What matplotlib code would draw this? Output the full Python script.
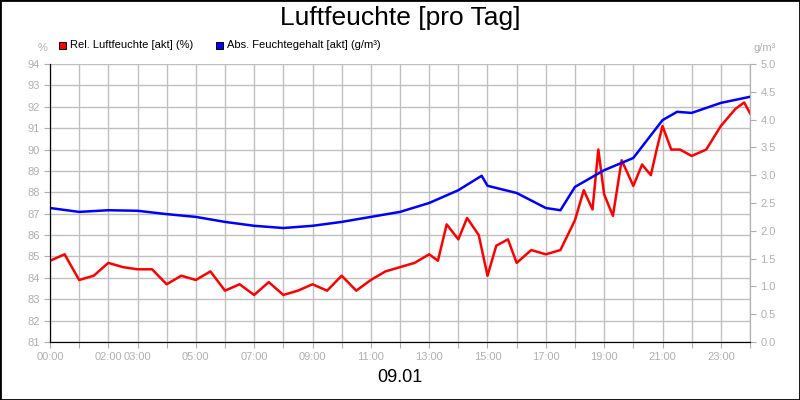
import numpy as np
import matplotlib.pyplot as plt
from matplotlib.patches import Rectangle

plt.rcParams['font.family'] = ['Liberation Sans', 'DejaVu Sans']

# Stunden seit 00:00
abs_h = [0, 1, 2, 3, 4, 5, 6, 7, 8, 9, 10, 11, 12, 13, 14, 14.8, 15, 16, 17, 17.5,
         18, 19, 20, 21, 21.5, 22, 23, 24]
abs_v = [2.41, 2.34, 2.37, 2.36, 2.30, 2.25, 2.16, 2.09, 2.05, 2.09, 2.16, 2.25, 2.34, 2.50,
         2.73, 2.99, 2.81, 2.68, 2.41, 2.37, 2.79, 3.09, 3.31, 3.99, 4.14, 4.12, 4.30, 4.41]

rel_h = [0, 0.5, 1, 1.5, 2, 2.5, 3, 3.5, 4, 4.5, 5, 5.5, 6, 6.5, 7, 7.5, 8, 8.5, 9, 9.5,
         10, 10.5, 11, 11.5, 12, 12.5, 13, 13.3, 13.6, 14, 14.3, 14.7, 15, 15.3, 15.7, 16,
         16.5, 17, 17.5, 18, 18.3, 18.6, 18.8, 19, 19.3, 19.6, 20, 20.3, 20.6, 20.8, 21,
         21.3, 21.6, 22, 22.5, 23, 23.5, 23.8, 24]
rel_v = [84.8, 85.1, 83.9, 84.1, 84.7, 84.5, 84.4, 84.4, 83.7, 84.1, 83.9, 84.3, 83.4, 83.7,
         83.2, 83.8, 83.2, 83.4, 83.7, 83.4, 84.1, 83.4, 83.9, 84.3, 84.5, 84.7, 85.1, 84.8,
         86.5, 85.8, 86.8, 86.0, 84.1, 85.5, 85.8, 84.7, 85.3, 85.1, 85.3, 86.7, 88.1, 87.2,
         90.0, 87.9, 86.9, 89.5, 88.3, 89.3, 88.8, 90.0, 91.1, 90.0, 90.0, 89.7, 90.0, 91.1,
         91.9, 92.2, 91.7]

tick_h = [0, 2, 3, 5, 7, 9, 11, 13, 15, 17, 19, 21, 23]

grey = '#b0b0b0'
fig = plt.figure(figsize=(8, 4), dpi=100)
fig.patches.append(Rectangle((0, 0), 1, 1, transform=fig.transFigure, fill=False,
                             edgecolor='black', linewidth=2))
ax = fig.add_axes([50 / 800, 58 / 400, 700 / 800, 278 / 400])
ax.plot(rel_h, rel_v, color='#ff0000', linewidth=1.8)
ax.set_xlim(0, 24)
ax.set_ylim(81, 94)
ax.set_yticks(range(81, 95))
ax.set_xticks(range(0, 25))
ax.set_xticklabels([("%02d:00" % h) if h in tick_h else "" for h in range(25)])
ax.grid(True, color='#c0c0c0', linewidth=1)
ax.tick_params(colors=grey, labelsize=8, labelcolor=grey, length=4)
for s in ['left', 'bottom']:
    ax.spines[s].set_color('black')
ax.spines['top'].set_visible(False)
ax.spines['right'].set_color(grey)

ax2 = ax.twinx()
ax2.plot(abs_h, abs_v, color='#0000ff', linewidth=1.8)
ax2.set_ylim(0, 5)
ax2.set_yticks(np.arange(0, 5.01, 0.5))
ax2.set_yticklabels(["%.1f" % v for v in np.arange(0, 5.01, 0.5)])
ax2.tick_params(colors=grey, labelsize=8, labelcolor=grey, length=4)
ax2.spines['top'].set_visible(False)
ax2.spines['right'].set_color(grey)
ax2.spines['left'].set_color('black')
ax2.spines['bottom'].set_color('black')

fig.text(0.5, 0.955, "Luftfeuchte [pro Tag]", ha='center', va='center', fontsize=19)
fig.text(0.5, 0.055, "09.01", ha='center', va='center', fontsize=13)
fig.text(43 / 800, 1 - 48 / 400, "%", ha='center', va='center', fontsize=8, color=grey)
fig.text(765 / 800, 1 - 48 / 400, "g/m³", ha='center', va='center', fontsize=8, color=grey)

fig.patches.append(Rectangle((59 / 800, 1 - 49 / 400), 7 / 800, 7 / 400, transform=fig.transFigure,
                             facecolor='#ff0000', edgecolor='black', linewidth=0.7))
fig.text(70 / 800, 1 - 45 / 400, "Rel. Luftfeuchte [akt] (%)", va='center', fontsize=8)
fig.patches.append(Rectangle((216 / 800, 1 - 49 / 400), 7 / 800, 7 / 400, transform=fig.transFigure,
                             facecolor='#0000ff', edgecolor='black', linewidth=0.7))
fig.text(227 / 800, 1 - 45 / 400, "Abs. Feuchtegehalt [akt] (g/m³)", va='center', fontsize=8)

fig.savefig("out.png", dpi=100)
